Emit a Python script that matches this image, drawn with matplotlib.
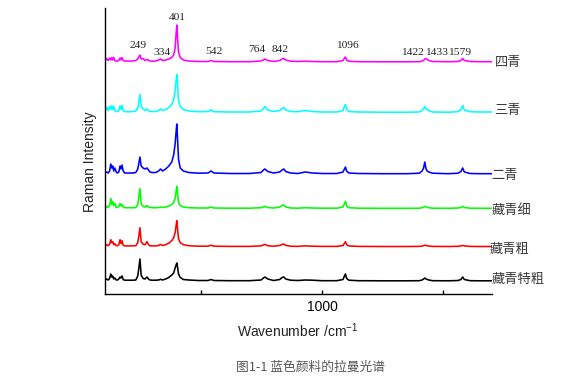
import matplotlib
matplotlib.use("Agg")
import matplotlib.pyplot as plt
import numpy as np

plt.rcParams['mathtext.fontset'] = 'custom'
plt.rcParams['mathtext.rm'] = 'Liberation Sans'
plt.rcParams['mathtext.it'] = 'Liberation Sans'

# wavenumber grid (cm-1)
wn = [105, 112, 118, 124, 129, 133, 137, 141, 146, 151,
      156, 162, 167, 171, 175, 180, 186, 194, 205, 220,
      232, 240, 244, 249, 254, 262, 270, 278, 284, 290,
      300, 315, 326, 334, 342, 355, 368, 380, 388, 394,
      398, 401, 404, 408, 415, 428, 450, 490, 530, 542,
      554, 620, 700, 748, 758, 764, 776, 800, 825, 835,
      842, 850, 870, 900, 930, 960, 1000, 1060, 1086, 1092,
      1096, 1101, 1110, 1150, 1250, 1350, 1400, 1412, 1418, 1423,
      1428, 1433, 1440, 1455, 1520, 1560, 1572, 1579, 1586, 1610,
      1650, 1700]

# intensities above each trace's own baseline (arbitrary units)
si_qing = [1, 3.5, 1.5, 4, 2, 4.5, 2, 4.5, 1.5, 1,
           1, 1.5, 4, 2, 4.5, 1.5, 1, 1, 1, 1,
           1.5, 3, 5, 7, 3, 3.5, 1.5, 2.5, 2, 1,
           0.8, 1, 2, 3, 1.5, 2, 3, 4.5, 7, 14,
           28, 37, 24, 10, 4.5, 2, 1, 0.5, 0.5, 1.5,
           0.5, 0.3, 0.3, 1, 2, 3, 1.5, 0.5, 1.5, 3,
           3.5, 2, 0.8, 0.5, 0.8, 0.5, 0.3, 0.3, 1.5, 4,
           5, 2, 0.8, 0.3, 0.2, 0.2, 0.3, 1, 1.5, 3,
           3.5, 2.5, 1.5, 0.5, 0.3, 0.5, 1.5, 3.5, 1.5, 0.5,
           0.3, 0.3]

san_qing = [1, 5, 2, 6, 3, 7, 3, 6, 2, 1,
            1, 2, 6.5, 3, 7, 2, 1, 0.8, 0.8, 1,
            1.5, 4, 10, 18, 6, 3.5, 2, 3.5, 2, 1,
            1, 1, 2, 3.5, 2, 3, 5, 8, 13, 22,
            32, 38, 28, 12, 6, 3, 1.5, 0.8, 1, 2.5,
            0.8, 0.5, 0.5, 1.5, 4, 6, 2.5, 1, 2, 4,
            5, 2.5, 1, 0.8, 2, 1, 0.5, 0.5, 2, 6,
            8, 3, 1, 0.5, 0.3, 0.3, 0.5, 2, 4, 6,
            3.5, 3, 2, 0.5, 0.3, 0.8, 3, 7, 2.5, 0.8,
            0.5, 0.5]

er_qing = [1, 2, 1, 3, 10, 6, 8, 3, 6, 2,
           1, 2, 8, 5, 9, 3, 1, 1, 1, 1,
           1.5, 5, 10, 17, 8, 6, 5, 6, 4, 2,
           1.5, 1.5, 3, 5, 3, 5, 8, 12, 19, 30,
           42, 50, 35, 15, 6, 3, 1.5, 0.8, 1, 3,
           1, 0.5, 0.5, 1.5, 4, 5, 2.5, 1, 2, 4,
           5, 2.5, 1, 0.5, 2, 1, 0.5, 0.5, 2, 5,
           7, 3, 1, 0.5, 0.3, 0.3, 0.8, 3, 6, 12,
           5, 3, 2, 0.8, 0.3, 0.8, 2.5, 6, 2, 0.5,
           0.3, 0.3]

zangqing_xi = [1, 2, 1, 3, 10, 4, 7, 3, 5, 1,
               1, 2, 5, 2.5, 4, 1.5, 0.8, 0.8, 0.8, 0.8,
               1, 4, 11, 20, 5, 2, 1.5, 3, 1.5, 1,
               0.8, 0.8, 1, 1.5, 1, 1.5, 2.5, 4, 6, 10,
               17, 22, 15, 6, 3, 1.5, 0.8, 0.5, 0.5, 1.5,
               0.5, 0.3, 0.3, 0.8, 1.5, 2, 1, 0.5, 1.5, 3,
               3.5, 1.5, 0.5, 0.3, 0.8, 0.5, 0.3, 0.3, 1.5, 5,
               7, 2.5, 0.8, 0.3, 0.2, 0.2, 0.3, 0.8, 1.5, 2,
               1.5, 1.5, 0.8, 0.3, 0.2, 0.5, 1, 2, 1, 0.3,
               0.2, 0.2]

zangqing_cu = [1, 2, 1, 2.5, 7, 4, 5, 2, 3, 1,
               1, 2, 7, 3, 6, 1.5, 0.8, 0.8, 0.8, 0.8,
               1, 4, 10, 19, 5, 2.5, 2, 5, 2, 1,
               0.8, 0.8, 1.2, 2.3, 1.2, 2, 3.5, 6, 9, 14,
               21, 26, 18, 8, 4, 2, 1, 0.5, 0.5, 1.5,
               0.5, 0.3, 0.3, 0.8, 1.8, 2.3, 1, 0.5, 1.2, 2.3,
               2.7, 1.3, 0.5, 0.3, 0.8, 0.5, 0.3, 0.3, 1.2, 3.5,
               5, 2, 0.8, 0.3, 0.2, 0.2, 0.3, 0.6, 1.2, 1.5,
               1.2, 1, 0.6, 0.3, 0.2, 0.4, 0.8, 1.3, 0.8, 0.3,
               0.2, 0.2]

zangqing_tecu = [1, 2, 1, 2.5, 7, 4, 5, 2, 3, 1,
                 1, 2, 4, 3, 5, 1.5, 0.8, 0.8, 0.8, 0.8,
                 1, 5, 12, 22, 6, 2.5, 2, 4, 2, 1,
                 0.8, 0.8, 1, 1.7, 1, 2, 3.5, 6, 8, 13,
                 16, 18, 14, 7, 3.5, 1.5, 1, 0.5, 0.5, 1.5,
                 0.5, 0.3, 0.3, 1, 3, 4, 2, 0.5, 1.5, 3.5,
                 4, 2, 0.8, 0.5, 1, 0.8, 0.3, 0.3, 1.5, 5,
                 7, 2.5, 0.8, 0.3, 0.2, 0.2, 0.3, 1, 2, 3,
                 2, 1.5, 1, 0.3, 0.2, 0.5, 1.5, 4, 1.5, 0.3,
                 0.2, 0.2]

samples = ['四青', '三青', '二青', '藏青细', '藏青粗', '藏青特粗']
spectra = [si_qing, san_qing, er_qing, zangqing_xi, zangqing_cu, zangqing_tecu]
colors = ['#ff00ff', '#00ffff', '#0000ff', '#00ff00', '#ff0000', '#000000']
offsets = [232, 181.5, 120, 85.5, 47.3, 13]
name_x = [1712, 1709, 1697, 1697, 1692, 1697]
name_y = [231.5, 183.5, 118, 84, 44.7, 14.7]

peak_labels = ['249', '334', '401', '542', '764', '842', '1096', '1422', '1433', '1579']
label_x = [243, 339, 401, 554, 733, 827, 1105, 1374, 1471, 1568]
label_y = [248.3, 241.7, 276.7, 242.3, 245, 245, 248.3, 241.7, 241.7, 241.7]

fig = plt.figure(figsize=(5.69, 3.79), dpi=100)
ax = fig.add_axes([105 / 569, 1 - 294 / 379, 387 / 569, 286 / 379])

for spec, col, off in zip(spectra, colors, offsets):
    ax.plot(wn, np.array(spec) + off, color=col, lw=1.15)

for name, x, y in zip(samples, name_x, name_y):
    ax.text(x, y, name, fontsize=9.5, color='#3a3a3a', ha='left', va='center',
            family=['Noto Sans CJK SC', 'DejaVu Sans'], clip_on=False)

for lab, x, y in zip(peak_labels, label_x, label_y):
    ax.text(x, y, lab, fontsize=8.2, color='#222222', ha='center', va='center',
            family='Liberation Serif')

ax.set_xlim(105, 1700)
ax.set_ylim(0, 286)
ax.set_xticks([500, 1000, 1500])
ax.set_xticklabels(['', '1000', ''])
ax.set_yticks([])
ax.tick_params(axis='x', direction='in', length=3, width=1, pad=4, labelsize=10)
for lab in ax.get_xticklabels():
    lab.set_family('Liberation Sans')
ax.spines['top'].set_visible(False)
ax.spines['right'].set_visible(False)
ax.spines['left'].set_linewidth(1.0)
ax.spines['bottom'].set_linewidth(1.0)

fig.text(90 / 569, 1 - 162 / 379, 'Raman Intensity', rotation=90, ha='center', va='center',
         fontsize=10, family='Liberation Sans', color='#222222')
fig.text(298 / 569, 1 - 331 / 379, 'Wavenumber /cm$^{-1}$', ha='center', va='center',
         fontsize=10, family='Liberation Sans', color='#222222')
fig.text(310 / 569, 1 - 367 / 379, '图1-1 蓝色颜料的拉曼光谱', ha='center', va='center',
         fontsize=9.2, family=['Noto Sans CJK SC', 'DejaVu Sans'], color='#555555')

fig.savefig('out.png', dpi=100)
